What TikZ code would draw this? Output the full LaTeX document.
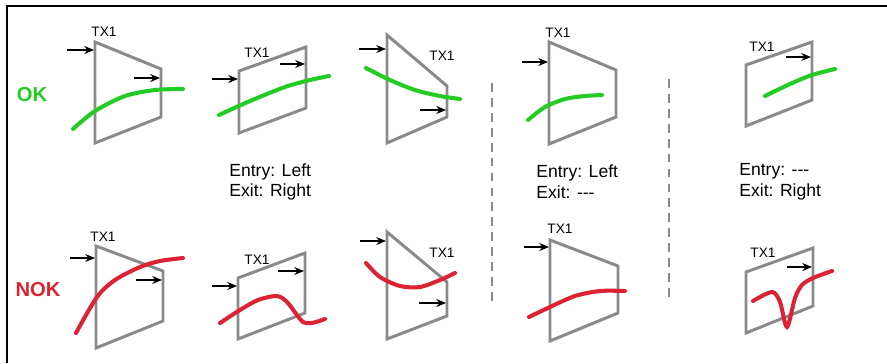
\documentclass[tikz,border=0pt]{standalone}
\usepackage{fontspec}
\setmainfont{Liberation Sans}
\usepackage{xcolor}
\definecolor{txgray}{HTML}{8A8A8A}
\definecolor{okgreen}{HTML}{22CC22}
\definecolor{nokred}{HTML}{DD2233}
\usepackage{tikz}
\usetikzlibrary{arrows.meta}

\begin{document}
\begin{tikzpicture}[x=0.02cm,y=-0.02cm,
  txbox/.style={draw=txgray,line width=1.7pt,line join=miter},
  txlabel/.style={font=\fontsize{7.8}{9}\selectfont,inner sep=0pt},
  flow/.style={-{Stealth[length=5.5pt,width=4.5pt]},line width=0.9pt},
  okpath/.style={okgreen,line width=2.3pt,line cap=round},
  nokpath/.style={nokred,line width=2.3pt,line cap=round},
  rule/.style={txgray,line width=1.2pt,dash pattern=on 5pt off 3.5pt},
  caption/.style={font=\fontsize{10}{11.9}\selectfont,align=left,anchor=west,inner sep=0pt}]
\useasboundingbox (0,0) rectangle (887,363);
% frame
\draw[line width=1.2pt] (7,363) -- (7,6) -- (887,6);

% row labels
\node[font=\fontsize{11.5}{13}\selectfont\bfseries,text=okgreen] (ok) at (32,95) {OK};
\node[font=\fontsize{11.5}{13}\selectfont\bfseries,text=nokred] (nok) at (38,290) {NOK};

% OK row
\draw[txbox] (95,42) -- (161,69) -- (161,117) -- (95,143) -- cycle;
\node[txlabel] (t1) at (104,32) {TX1};
\draw[flow] (67,50) -- (94,50);
\draw[flow] (134,78) -- (160,78);
\draw[okpath] plot[smooth] coordinates {(73,129) (95,111) (125,96) (155,90) (183,89)};

\draw[txbox] (239,71) -- (306,47) -- (306,108) -- (239,133) -- cycle;
\node[txlabel] (t2) at (257,53) {TX1};
\draw[flow] (212,79) -- (238,79);
\draw[flow] (280,64) -- (305,64);
\draw[okpath] plot[smooth] coordinates {(219,115) (250,101) (285,87) (310,80) (329,76)};

\draw[txbox] (387,35) -- (447,86) -- (447,117) -- (387,143) -- cycle;
\node[txlabel] (t3) at (442,56) {TX1};
\draw[flow] (359,49) -- (386,49);
\draw[flow] (420,110) -- (446,110);
\draw[okpath] plot[smooth] coordinates {(366,68) (390,80) (415,90) (440,96) (460,99)};

\draw[txbox] (549,42) -- (616,70) -- (616,117) -- (549,144) -- cycle;
\node[txlabel] (t4) at (558,33) {TX1};
\draw[flow] (522,62) -- (548,62);
\draw[okpath] plot[smooth] coordinates {(528,120) (545,107) (565,99) (585,96) (602,95)};

\draw[txbox] (746,65) -- (812,42) -- (812,100) -- (746,126) -- cycle;
\node[txlabel] (t5) at (762,47) {TX1};
\draw[flow] (786,57) -- (811,57);
\draw[okpath] plot[smooth] coordinates {(765,96) (790,84) (812,75) (835,69)};

% captions
\node[caption] (c1) at (229,182) {Entry: Left\\Exit: Right};
\node[caption] (c2) at (536,182) {Entry: Left\\Exit: -{}-{}-};
\node[caption] (c3) at (739,182) {Entry: -{}-{}-\\Exit: Right};

% separators
\draw[rule] (492,83) -- (492,302);
\draw[rule] (669,79) -- (669,299);

% NOK row
\draw[txbox] (96,246) -- (163,271) -- (163,321) -- (96,348) -- cycle;
\node[txlabel] (t6) at (103,237) {TX1};
\draw[flow] (70,258) -- (95,258);
\draw[flow] (136,280) -- (162,280);
\draw[nokpath] plot[smooth] coordinates {(76,333) (97,297) (115,280) (140,267) (160,261) (183,258)};

\draw[txbox] (238,278) -- (305,253) -- (305,313) -- (238,339) -- cycle;
\node[txlabel] (t7) at (257,260) {TX1};
\draw[flow] (212,286) -- (237,286);
\draw[flow] (278,271) -- (304,271);
\draw[nokpath] plot[smooth] coordinates {(220,323) (240,310) (258,300) (277,296) (287,302) (297,315) (303,322) (312,323) (325,319)};

\draw[txbox] (387,232) -- (447,282) -- (447,316) -- (387,339) -- cycle;
\node[txlabel] (t8) at (442,253) {TX1};
\draw[flow] (360,241) -- (386,241);
\draw[flow] (419,303) -- (446,303);
\draw[nokpath] plot[smooth] coordinates {(366,263) (380,277) (400,286) (420,287) (440,280) (455,273)};

\draw[txbox] (550,240) -- (618,266) -- (618,313) -- (550,341) -- cycle;
\node[txlabel] (t9) at (560,229) {TX1};
\draw[flow] (524,247) -- (549,247);
\draw[nokpath] plot[smooth] coordinates {(529,317) (550,307) (575,296) (600,291) (625,291)};

\draw[txbox] (746,272) -- (813,248) -- (813,306) -- (746,333) -- cycle;
\node[txlabel] (t10) at (763,253) {TX1};
\draw[flow] (787,267) -- (812,267);
\draw[nokpath] plot[smooth] coordinates {(753,301) (772,292) (780,302) (787,327) (795,298) (802,285) (813,278) (832,271)};
\end{tikzpicture}
\end{document}
